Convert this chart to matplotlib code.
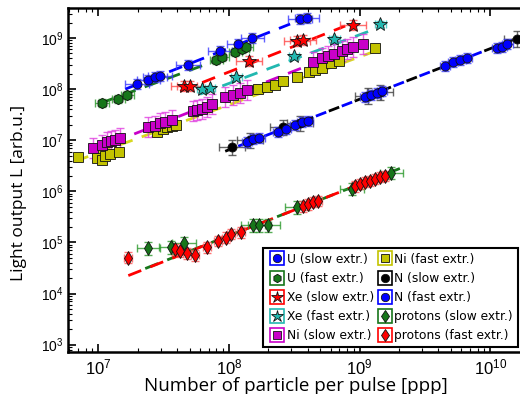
import numpy as np
import matplotlib
matplotlib.use('Agg')
import matplotlib.pyplot as plt
from matplotlib.lines import Line2D
from matplotlib.legend_handler import HandlerTuple

plt.rcParams.update({
    'font.family': ['Liberation Sans', 'DejaVu Sans'],
    'mathtext.default': 'regular',
})

# ── data ──────────────────────────────────────────────────
u_slow_x = [1.99e7, 2.42e7, 2.73e7, 2.98e7, 4.88e7, 8.58e7, 1.18e8, 1.51e8, 3.51e8, 3.97e8]
u_slow_y = [1.25e8, 1.50e8, 1.72e8, 1.80e8, 2.96e8, 5.56e8, 7.60e8, 1.00e9, 2.36e9, 2.47e9]

u_fast_x = [1.07e7, 1.42e7, 1.67e7, 8.0e7, 8.9e7, 1.12e8, 1.26e8, 1.36e8]
u_fast_y = [5.3e7, 6.4e7, 7.6e7, 3.7e8, 4.2e8, 5.3e8, 6.1e8, 6.7e8]

xe_slow_x = [4.55e7, 5.06e7, 1.43e8, 3.33e8, 3.70e8, 8.93e8]
xe_slow_y = [1.15e8, 1.15e8, 3.54e8, 8.7e8, 9.1e8, 1.80e9]

xe_fast_x = [6.25e7, 7.2e7, 1.14e8, 3.16e8, 6.4e8, 1.44e9]
xe_fast_y = [1.00e8, 1.05e8, 1.72e8, 4.44e8, 9.56e8, 1.88e9]

ni_slow_x = [9.2e6, 1.07e7, 1.17e7, 1.26e7, 1.35e7, 1.47e7, 2.42e7, 2.73e7, 2.98e7, 3.26e7,
             3.68e7, 5.33e7, 5.72e7, 6.25e7, 6.82e7, 7.45e7, 9.37e7, 1.08e8, 1.22e8, 1.38e8,
             4.41e8, 5.17e8, 5.75e8, 6.4e8, 7.37e8, 8.04e8, 8.93e8, 1.07e9]
ni_slow_y = [7.0e6, 8.0e6, 9.1e6, 9.6e6, 1.00e7, 1.09e7, 1.80e7, 1.88e7, 2.15e7, 2.25e7,
             2.47e7, 3.7e7, 3.88e7, 4.05e7, 4.44e7, 5.08e7, 6.97e7, 7.6e7, 8.35e7, 9.55e7,
             3.38e8, 4.05e8, 4.44e8, 4.86e8, 5.56e8, 6.09e8, 6.67e8, 7.63e8]

ni_fast_x = [7.03e6, 9.8e6, 1.07e7, 1.13e7, 1.24e7, 1.45e7, 2.82e7, 3.14e7, 3.37e7, 3.68e7,
             3.95e7, 1.67e8, 1.96e8, 2.26e8, 2.60e8, 3.33e8, 4.11e8, 4.57e8, 5.17e8, 6.06e8,
             6.98e8, 1.32e9]
ni_fast_y = [4.64e6, 4.44e6, 4.05e6, 4.86e6, 5.31e6, 5.82e6, 1.44e7, 1.64e7, 1.80e7, 1.88e7,
             1.97e7, 1.00e8, 1.09e8, 1.20e8, 1.43e8, 1.72e8, 2.15e8, 2.36e8, 2.58e8, 3.24e8,
             3.54e8, 6.37e8]

n_slow_x = [1.06e8, 1.46e8, 2.6e8, 3.52e8, 1.16e9, 1.44e9, 1.61e10]
n_slow_y = [7.3e6, 1.0e7, 1.8e7, 2.15e7, 7.3e7, 8.7e7, 9.55e8]

n_fast_x = [1.38e8, 1.53e8, 1.71e8, 2.38e8, 2.74e8, 3.21e8, 3.64e8, 4.04e8, 1.10e9, 1.23e9,
            1.37e9, 1.49e9, 4.52e9, 5.2e9, 5.89e9, 6.66e9, 1.13e10, 1.23e10, 1.35e10]
n_fast_y = [9.14e6, 1.05e7, 1.09e7, 1.44e7, 1.64e7, 1.97e7, 2.25e7, 2.36e7, 6.97e7, 7.6e7,
            8.35e7, 9.1e7, 2.83e8, 3.38e8, 3.7e8, 4.05e8, 6.37e8, 6.67e8, 7.63e8]

p_slow_x = [2.42e7, 3.62e7, 4.55e7, 1.53e8, 1.71e8, 2.0e8, 3.33e8, 8.77e8, 1.75e9]
p_slow_y = [7.63e4, 7.98e4, 9.55e4, 2.15e5, 2.15e5, 2.15e5, 4.86e5, 1.1e6, 2.25e6]

p_fast_x = [1.7e7, 3.88e7, 4.24e7, 4.8e7, 5.52e7, 6.82e7, 8.28e7, 9.53e7, 1.04e8, 1.24e8,
            3.7e8, 4.04e8, 4.41e8, 4.82e8, 9.25e8, 1.01e9, 1.10e9, 1.21e9, 1.32e9, 1.44e9, 1.57e9]
p_fast_y = [5.08e4, 7.3e4, 6.67e4, 6.09e4, 5.56e4, 7.98e4, 1.05e5, 1.25e5, 1.44e5, 1.57e5,
            5.08e5, 5.56e5, 6.09e5, 6.37e5, 1.25e6, 1.37e6, 1.50e6, 1.57e6, 1.72e6, 1.88e6, 1.97e6]

# fitted power-law lines (end points)
fit_u_slow = ([1.61e7, 2.94e8], [1.0e8, 1.88e9])
fit_u_fast = ([1.04e7, 1.46e8], [5.3e7, 6.4e8])
fit_xe_slow = ([4.24e7, 7.76e8], [9.1e7, 1.72e9])
fit_xe_fast = ([6.03e7, 1.44e9], [7.98e7, 1.64e9])
fit_ni_slow = ([8.7e6, 1.01e9], [6.09e6, 7.3e8])
fit_ni_fast = ([6.67e6, 1.32e9], [3.88e6, 5.56e8])
fit_n = ([9.37e7, 1.7e10], [6.09e6, 1.05e9])
fit_p_slow = ([2.29e7, 2.05e9], [3.09e4, 2.83e6])
fit_p_fast = ([1.7e7, 1.78e9], [2.25e4, 2.47e6])

labels = ['U (slow extr.)', 'U (fast extr.)', 'Xe (slow extr.)', 'Xe (fast extr.)',
          'Ni (slow extr.)', 'Ni (fast extr.)', 'N (slow extr.)', 'N (fast extr.)',
          'protons (slow extr.)', 'protons (fast extr.)']

BLUE = '#0000ff'
GREEN = '#17761a'
RED = '#ff0000'
CYAN = '#22b8b0'
MAG = '#c800c8'
OLIVE = '#c3c300'
BLACK = '#000000'

fig = plt.figure(figsize=(5.2, 3.94), dpi=100)
ax = fig.add_axes([0.131, 0.107, 0.9125, 0.873])
ax.set_xscale('log')
ax.set_yscale('log')


def series(x, y, face, ebar, marker, ms, xe, ye, z=3):
    x = np.array(x); y = np.array(y)
    xerr = [x - x / 10**xe, x * 10**xe - x]
    yerr = [y - y / 10**ye, y * 10**ye - y]
    ax.errorbar(x, y, xerr=xerr, yerr=yerr, fmt='none', ecolor=ebar,
                elinewidth=1.0, capsize=3, capthick=1.0, alpha=0.8, zorder=z)
    ax.plot(x, y, ls='', marker=marker, ms=ms, mfc=face, mec='#111111',
            mew=0.6, zorder=z + 1)


def fit(line, color, ls=(0, (5, 3.5)), z=2):
    ax.plot(line[0], line[1], color=color, lw=2, ls=ls, zorder=z)


fit(fit_ni_fast, '#d8d820')
fit(fit_ni_slow, MAG)
fit(fit_u_fast, GREEN)
fit(fit_u_slow, BLUE)
fit(fit_xe_slow, RED)
fit(fit_xe_fast, CYAN)
fit(fit_n, BLACK, (0, (4, 6)))
fit(fit_n, BLUE, (5, (4, 6)))
fit(fit_p_slow, GREEN)
fit(fit_p_fast, RED)

series(ni_fast_x, ni_fast_y, OLIVE, '#e4e455', 's', 6.5, 0.03, 0.08)
series(ni_slow_x, ni_slow_y, MAG, '#e040e0', 's', 6.5, 0.03, 0.2)
series(u_fast_x, u_fast_y, GREEN, '#2d9a2d', 'h', 7.5, 0.05, 0.08)
series(u_slow_x, u_slow_y, BLUE, '#3a3aff', 'o', 6.5, 0.09, 0.1)
series(xe_slow_x, xe_slow_y, RED, '#ff4a4a', '*', 10, 0.1, 0.1)
series(xe_fast_x, xe_fast_y, CYAN, '#30c8c0', '*', 10, 0.04, 0.05)
series(n_slow_x, n_slow_y, BLACK, '#404040', 'o', 6.5, 0.1, 0.15)
series(n_fast_x, n_fast_y, BLUE, '#3a3aff', 'o', 6.5, 0.04, 0.1)
series(p_slow_x, p_slow_y, GREEN, '#2d9a2d', 'd', 7, 0.09, 0.12)
series(p_fast_x, p_fast_y, RED, '#ff5050', 'd', 7, 0.03, 0.1)

ax.set_xlim(10**6.77, 10**10.4)
ax.set_ylim(10**2.86, 10**9.59)

ax.set_xlabel('Number of particle per pulse [ppp]', family='Open Sans', fontsize=13.5)
ax.xaxis.set_label_coords(0.48, -0.072)
ax.set_ylabel('Light output L [arb.u.]', family='Open Sans', fontsize=12.5)
ax.yaxis.set_label_coords(-0.086, 0.462)

ax.tick_params(which='both', direction='in', top=True, right=True)
ax.tick_params(which='major', length=6, width=1.2)
ax.tick_params(which='minor', length=3, width=0.8)
ax.tick_params(axis='x', labelsize=12, pad=4)
ax.tick_params(axis='y', labelsize=10, pad=3)
for s in ax.spines.values():
    s.set_linewidth(1.8)

# legend: coloured square with marker inside
legend_specs = [
    (BLUE, BLUE, 'o'), (GREEN, GREEN, 'h'), (RED, RED, '*'), (CYAN, CYAN, '*'),
    (MAG, MAG, 's'), (OLIVE, OLIVE, 's'), (BLACK, BLACK, 'o'), (BLUE, BLUE, 'o'),
    (GREEN, GREEN, 'd'), (RED, RED, 'd'),
]
handles = []
for face, box, mk in legend_specs:
    b = Line2D([], [], ls='', marker='s', ms=10, mfc='white', mec=box, mew=1.2)
    m = Line2D([], [], ls='', marker=mk, ms=6 if mk != '*' else 9,
               mfc=face, mec='#111111', mew=0.6)
    handles.append((b, m))

leg = fig.legend(handles, labels, ncol=2, loc='upper left',
                 bbox_to_anchor=(0.506, 0.371),
                 prop={'family': 'DejaVu Sans', 'size': 8.8},
                 handler_map={tuple: HandlerTuple(ndivide=1)},
                 handlelength=1.5, handletextpad=0.05, columnspacing=0.1,
                 labelspacing=0.5, borderpad=0.4, borderaxespad=0,
                 fancybox=False, framealpha=1, edgecolor='black')
leg.get_frame().set_linewidth(1.5)

fig.savefig('out.png', dpi=100)
